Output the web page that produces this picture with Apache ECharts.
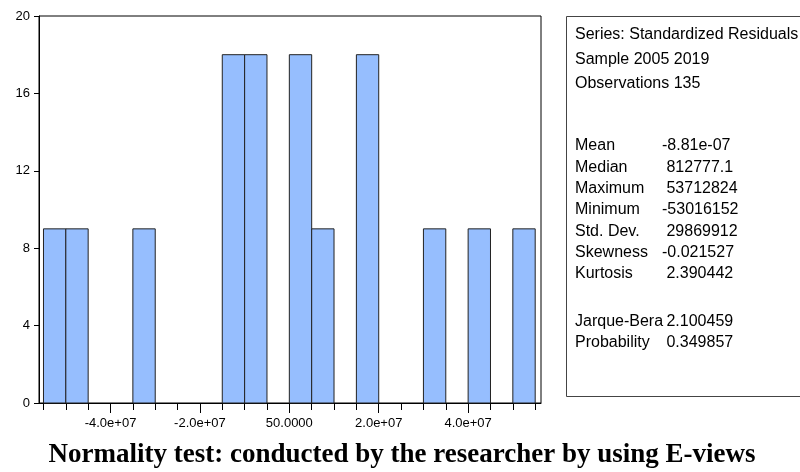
<!DOCTYPE html>
<html>
<head>
<meta charset="utf-8">
<script src="https://cdn.jsdelivr.net/npm/echarts@6/dist/echarts.min.js"></script>
<style>
  html, body { margin: 0; padding: 0; background: #fff; }
  #main { width: 800px; height: 472px; }
</style>
</head>
<body>
<div id="main"></div>
<script>
// histogram bins (start of each bin, width 5e6) and counts
var binStarts = [-55e6, -50e6, -45e6, -40e6, -35e6, -30e6, -25e6, -20e6, -15e6, -10e6, -5e6,
                 0, 5e6, 10e6, 15e6, 20e6, 25e6, 30e6, 35e6, 40e6, 45e6, 50e6];
var binCounts = [9, 9, 0, 0, 9, 0, 0, 0, 18, 18, 0,
                 18, 9, 0, 18, 0, 0, 9, 0, 9, 0, 9];
var binWidth = 5e6;

var minorTicks = [-55e6, -50e6, -45e6, -40e6, -35e6, -30e6, -25e6, -20e6, -15e6, -10e6, -5e6, 0,
                  5e6, 10e6, 15e6, 20e6, 25e6, 30e6, 35e6, 40e6, 45e6, 50e6, 55e6];
var majorTicks = [-40e6, -20e6, 0, 20e6, 40e6];
var majorLabels = ['-4.0e+07', '-2.0e+07', '50.0000', '2.0e+07', '4.0e+07'];

var yTicks = [0, 4, 8, 12, 16, 20];

// stats box text
var headerLines = ['Series: Standardized Residuals', 'Sample 2005 2019', 'Observations 135'];
var statNames = ['Mean', 'Median', 'Maximum', 'Minimum', 'Std. Dev.', 'Skewness', 'Kurtosis'];
var statValues = ['-8.81e-07', ' 812777.1', ' 53712824', '-53016152', ' 29869912', '-0.021527', ' 2.390442'];
var testNames = ['Jarque-Bera', 'Probability'];
var testValues = [' 2.100459', ' 0.349857'];

var caption = 'Normality test: conducted by the researcher by using E-views';

var chart = echarts.init(document.getElementById('main'));

var FONT = 'Liberation Sans, Arial, sans-serif';

function txt(s, x, y) {
  return {
    type: 'text',
    style: { text: s, x: x, y: y, fontSize: 16, fontFamily: FONT, fill: '#000', verticalAlign: 'middle' }
  };
}

var graphics = [];
graphics.push({
  type: 'rect',
  shape: { x: 566.5, y: 16.5, width: 260, height: 380 },
  style: { fill: 'none', stroke: '#444', lineWidth: 1 }
});
var headerY = [35, 59.5, 84];
headerLines.forEach(function (s, i) { graphics.push(txt(s, 575, headerY[i])); });
statNames.forEach(function (s, i) {
  var y = 146 + i * 21.3;
  graphics.push(txt(s, 575, y));
  graphics.push(txt(statValues[i], 662, y));
});
testNames.forEach(function (s, i) {
  var y = 321.5 + i * 21.5;
  graphics.push(txt(s, 575, y));
  graphics.push(txt(testValues[i], 662, y));
});
// caption under the graph
graphics.push({
  type: 'text',
  style: {
    text: caption, x: 402, y: 455, fontSize: 27, fontWeight: 'bold',
    fontFamily: 'Liberation Serif, Times New Roman, serif', fill: '#000',
    align: 'center', verticalAlign: 'middle'
  }
});

var option = {
  animation: false,
  backgroundColor: '#fff',
  grid: {
    left: 39, right: 259, top: 16, bottom: 69,
    show: true, borderColor: '#000', borderWidth: 1
  },
  xAxis: [
    {
      type: 'value', min: -56e6, max: 56.3e6,
      axisLine: { show: true, onZero: false, lineStyle: { color: '#000', width: 1 } },
      axisTick: { show: true, length: 7, customValues: minorTicks, lineStyle: { color: '#000' } },
      axisLabel: { show: false },
      splitLine: { show: false }
    },
    {
      type: 'value', min: -56e6, max: 56.3e6, position: 'bottom', offset: 0,
      axisLine: { show: false, onZero: false },
      axisTick: { show: true, length: 10, customValues: majorTicks, lineStyle: { color: '#000' } },
      axisLabel: {
        show: true, customValues: majorTicks, margin: 14,
        fontSize: 13, fontFamily: FONT, color: '#000',
        formatter: function (v) {
          var i = majorTicks.indexOf(v);
          return i >= 0 ? majorLabels[i] : '';
        }
      },
      splitLine: { show: false }
    }
  ],
  yAxis: {
    type: 'value', min: 0, max: 20, interval: 4,
    axisLine: { show: true, onZero: false, lineStyle: { color: '#000', width: 1 } },
    axisTick: { show: true, length: 5, customValues: yTicks, lineStyle: { color: '#000' } },
    axisLabel: { margin: 9, fontSize: 13, fontFamily: FONT, color: '#000' },
    splitLine: { show: false }
  },
  series: [{
    type: 'custom',
    xAxisIndex: 0,
    data: binStarts.map(function (s, i) { return [s, s + binWidth, binCounts[i]]; }),
    renderItem: function (params, api) {
      var h = api.value(2);
      if (!h) return null;
      var p0 = api.coord([api.value(0), 0]);
      var p1 = api.coord([api.value(1), h]);
      return {
        type: 'rect',
        shape: { x: p0[0], y: p1[1], width: p1[0] - p0[0], height: p0[1] - p1[1] },
        style: { fill: '#96BEFE', stroke: '#222', lineWidth: 1 }
      };
    }
  }],
  graphic: graphics
};

chart.setOption(option);
</script>
</body>
</html>
